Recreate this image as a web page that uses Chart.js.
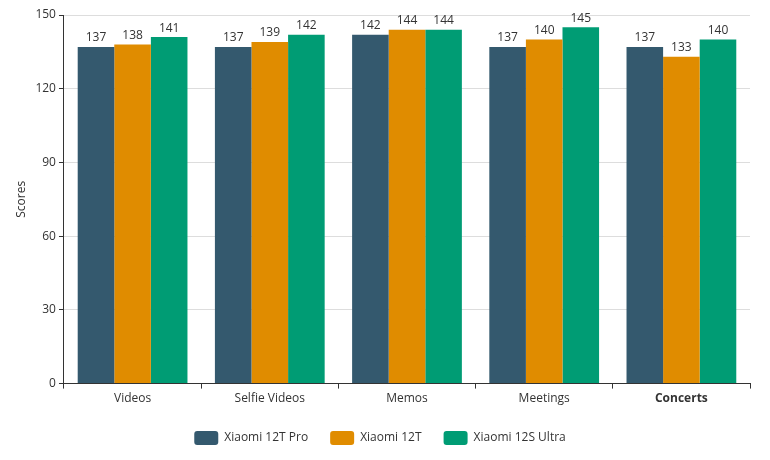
<!DOCTYPE html>
<html><head><meta charset="utf-8">
<script src="https://cdn.jsdelivr.net/npm/chart.js@4"></script>
<style>html,body{margin:0;padding:0;background:#fff}#w{width:770px;height:460px}</style>
</head><body><div id="w"><canvas id="c"></canvas></div>
<script>
const categories=["Videos","Selfie Videos","Memos","Meetings","Concerts"];
const pro=[137,137,142,137,137];
const t12=[138,139,144,140,133];
const ultra=[141,142,144,145,140];
const seriesNames=["Xiaomi 12T Pro","Xiaomi 12T","Xiaomi 12S Ultra"];
const colors=["#34596e","#e08c00","#009c74"];
const F="'Open Sans', 'Noto Sans', sans-serif";
const labels={id:'lbl',afterDatasetsDraw(ch){const x=ch.ctx;x.save();x.font="12px "+F;x.fillStyle="#333";x.textAlign='center';x.textBaseline='bottom';
ch.data.datasets.forEach((d,i)=>{ch.getDatasetMeta(i).data.forEach((b,j)=>{x.fillText(d.data[j],b.x,b.y-3);});});x.restore();}};
new Chart(document.getElementById('c'),{type:'bar',
data:{labels:categories,datasets:[pro,t12,ultra].map((d,i)=>({label:seriesNames[i],data:d,backgroundColor:colors[i],categoryPercentage:0.8,barPercentage:1}))},
options:{responsive:true,maintainAspectRatio:false,animation:false,
layout:{padding:{left:10,right:20,top:15,bottom:5}},
plugins:{legend:{position:'bottom',labels:{font:{family:F,size:12},color:'#333',boxWidth:24,boxHeight:14,useBorderRadius:true,borderRadius:3,padding:22}},tooltip:{enabled:false}},
scales:{y:{min:0,max:150,ticks:{stepSize:30,font:{family:F,size:12},color:'#333'},grid:{color:'#ddd',tickColor:'#333',tickLength:5},border:{color:'#333'},title:{display:true,text:'Scores',font:{family:F,size:12},color:'#333'}},
x:{ticks:{font:c=>({family:F,size:12,weight:c.index===4?'bold':'normal'}),color:'#333'},grid:{display:true,offset:true,drawOnChartArea:false,tickColor:'#333',tickLength:5},border:{color:'#333'}}}},
plugins:[labels]});
</script></body></html>
